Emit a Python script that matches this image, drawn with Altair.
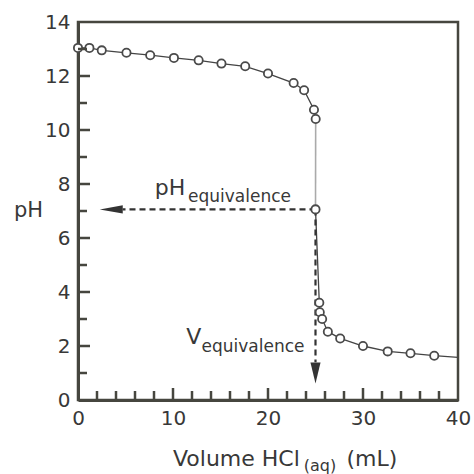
import altair as alt
import pandas as pd

# ---- data ----
vol = [0, 1.2, 2.5, 5.1, 7.6, 10.1, 12.7, 15.1, 17.6, 20.0, 22.7, 23.8, 24.84, 25.02,
       25.0, 25.4, 25.45, 25.7, 26.3, 27.6, 30.0, 32.6, 35.0, 37.5]
ph = [13.04, 13.04, 12.95, 12.86, 12.77, 12.67, 12.58, 12.46, 12.36, 12.09, 11.74, 11.47, 10.75, 10.41,
      7.06, 3.6, 3.25, 3.0, 2.53, 2.28, 2.0, 1.80, 1.73, 1.64]
line_end_vol = [40.0]
line_end_ph = [1.58]

x_label_values = [0, 10, 20, 30, 40]
y_label_values = [0, 2, 4, 6, 8, 10, 12, 14]
x_major_ticks = [10, 20, 30]
x_minor_ticks = [2, 4, 6, 8, 12, 14, 16, 18, 22, 24, 26, 28, 32, 34, 36, 38]
y_major_ticks = [2, 4, 6, 8, 10, 12]
y_minor_ticks = [1, 3, 5, 7, 9, 11, 13]

eq_vol = 25.0
eq_ph = 7.06
h_arrow_end = [4.7]     # end of horizontal dashed line (vol)
h_arrow_head = [3.5]    # centre of horizontal arrow head (vol)
v_arrow_end = [1.4]     # end of vertical dashed line (pH)
v_arrow_head = [1.0]    # centre of vertical arrow head (pH)

FRAME = "#46463f"
TXT = "#383838"
FONT = "DejaVu Sans"

xs = alt.Scale(domain=[0, 40], nice=False, zero=False)
ys = alt.Scale(domain=[0, 14], nice=False, zero=False)

df = pd.DataFrame({"vol": vol, "ph": ph, "i": range(len(vol))})
upper = df[df.i <= 13]
lower = pd.concat([df[df.i >= 14], pd.DataFrame({"vol": line_end_vol, "ph": line_end_ph, "i": [99]})])
steep = df[(df.i == 13) | (df.i == 14)]

X = alt.X("vol:Q", scale=xs, axis=alt.Axis(values=x_label_values, ticks=False, grid=False, title=None,
                                            domainColor=FRAME, domainWidth=3, labelFontSize=20,
                                            labelColor=TXT, labelPadding=8, labelFont=FONT,
                                            labelFlush=False, labelOverlap=False))
Y = alt.Y("ph:Q", scale=ys, axis=alt.Axis(values=y_label_values, ticks=False, grid=False, title=None,
                                           domainColor=FRAME, domainWidth=3, labelFontSize=20,
                                           labelColor=TXT, labelPadding=8, labelFont=FONT,
                                           labelFlush=False, labelOverlap=False))

base_axes = alt.Chart(df).mark_point(opacity=0).encode(x=X, y=Y)

line_up = alt.Chart(upper).mark_line(color="#444444", strokeWidth=1.3).encode(
    x=alt.X("vol:Q", scale=xs), y=alt.Y("ph:Q", scale=ys), order="i:Q")
line_low = alt.Chart(lower).mark_line(color="#444444", strokeWidth=1.3).encode(
    x=alt.X("vol:Q", scale=xs), y=alt.Y("ph:Q", scale=ys), order="i:Q")
line_steep = alt.Chart(steep).mark_line(color="#aaaaaa", strokeWidth=1.6).encode(
    x=alt.X("vol:Q", scale=xs), y=alt.Y("ph:Q", scale=ys), order="i:Q")

# dashed guide lines
hdash = alt.Chart(pd.DataFrame({"vol": [eq_vol], "vol2": h_arrow_end, "ph": [eq_ph]})).mark_rule(
    color="#333333", strokeWidth=2.2, strokeDash=[6, 4]).encode(
    x=alt.X("vol:Q", scale=xs), x2="vol2:Q", y=alt.Y("ph:Q", scale=ys))
vdash = alt.Chart(pd.DataFrame({"vol": [eq_vol], "ph": [eq_ph], "ph2": v_arrow_end})).mark_rule(
    color="#333333", strokeWidth=2.2, strokeDash=[6, 4]).encode(
    x=alt.X("vol:Q", scale=xs), y=alt.Y("ph:Q", scale=ys), y2="ph2:Q")
harrow = alt.Chart(pd.DataFrame({"vol": h_arrow_head, "ph": [eq_ph]})).mark_point(
    shape="M-1,0L1,-0.36L1,0.36Z", filled=True, color="#333333", size=530, opacity=1).encode(
    x=alt.X("vol:Q", scale=xs), y=alt.Y("ph:Q", scale=ys))
varrow = alt.Chart(pd.DataFrame({"vol": [eq_vol], "ph": v_arrow_head})).mark_point(
    shape="M0,1L-0.48,-1L0.48,-1Z", filled=True, color="#333333", size=440, opacity=1).encode(
    x=alt.X("vol:Q", scale=xs), y=alt.Y("ph:Q", scale=ys))

points = alt.Chart(df).mark_point(shape="circle", filled=True, fill="white", stroke="#4a4a4a",
                                  strokeWidth=1.8, size=68, opacity=1).encode(
    x=alt.X("vol:Q", scale=xs), y=alt.Y("ph:Q", scale=ys))

# inward tick marks
def xticks(vals, length):
    return alt.Chart(pd.DataFrame({"vol": vals})).mark_rule(color=FRAME, strokeWidth=2.5).encode(
        x=alt.X("vol:Q", scale=xs), y=alt.value(378), y2=alt.value(378 - length))

def yticks(vals, length):
    return alt.Chart(pd.DataFrame({"ph": vals})).mark_rule(color=FRAME, strokeWidth=2.5).encode(
        y=alt.Y("ph:Q", scale=ys), x=alt.value(0), x2=alt.value(length))

# annotations
def txt(x, y, s, size, xval=None, yval=None, baseline="alphabetic"):
    d = pd.DataFrame({"vol": [x], "ph": [y], "t": [s]})
    enc = {"text": "t:N"}
    enc["x"] = alt.value(xval) if xval is not None else alt.X("vol:Q", scale=xs)
    enc["y"] = alt.value(yval) if yval is not None else alt.Y("ph:Q", scale=ys)
    return alt.Chart(d).mark_text(align="left", baseline=baseline, fontSize=size, font=FONT,
                                  color=TXT).encode(**enc)

texts = [
    txt(8.07, 7.59, "pH", 22),
    txt(11.58, 7.35, "equivalence", 17),
    txt(11.4, 2.07, "V", 22),
    txt(13.0, 1.77, "equivalence", 17),
    txt(10.0, 0, "Volume HCl", 22, yval=444),
    txt(23.76, 0, "(aq)", 16, yval=449),
    txt(28.25, 0, "(mL)", 22, yval=444),
    txt(0, 6.79, "pH", 21, xval=-64),
]

chart = alt.layer(
    base_axes, line_up, line_steep, line_low, hdash, vdash, harrow, varrow, points,
    xticks(x_major_ticks, 12), xticks(x_minor_ticks, 9),
    yticks(y_major_ticks, 12), yticks(y_minor_ticks, 9),
    *texts
).properties(
    width=380, height=378,
    padding={"left": 78, "top": 22, "right": 16, "bottom": 74},
    autosize=alt.AutoSizeParams(type="none"),
    background="white",
).configure_view(stroke=FRAME, strokeWidth=2.5)

chart.save("out.html", embed_options={"renderer": "svg", "actions": False})
